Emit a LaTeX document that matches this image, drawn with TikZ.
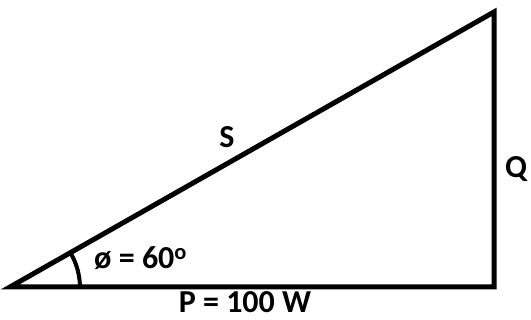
\documentclass[tikz,border=0pt]{standalone}
\usepackage{fontspec}
\setmainfont{Carlito}
\begin{document}
\begin{tikzpicture}[x=1pt,y=-1pt,
  side/.style={line width=5pt, line cap=rect, line join=miter},
  lbl/.style={font=\bfseries\fontsize{32}{35}\selectfont, inner sep=0pt, text=black}]
\useasboundingbox (0,0) rectangle (531,320);
\coordinate (A) at (10,287);
\coordinate (B) at (494,287);
\coordinate (C) at (494,12);
\draw[side] (A) -- (B) -- (C) -- cycle;
\draw[line width=4pt] (80,288) arc[start angle=0, end angle=-30, radius=70];
\node[lbl] (S) at (227,137) {S};
\node[lbl] (Q) at (516,169) {Q};
\node[lbl, anchor=base west] (phi) at (94,269) {ø = 60\textsuperscript{o}};
\node[lbl, anchor=base] (P) at (245,313) {P = 100 W};
\end{tikzpicture}
\end{document}
